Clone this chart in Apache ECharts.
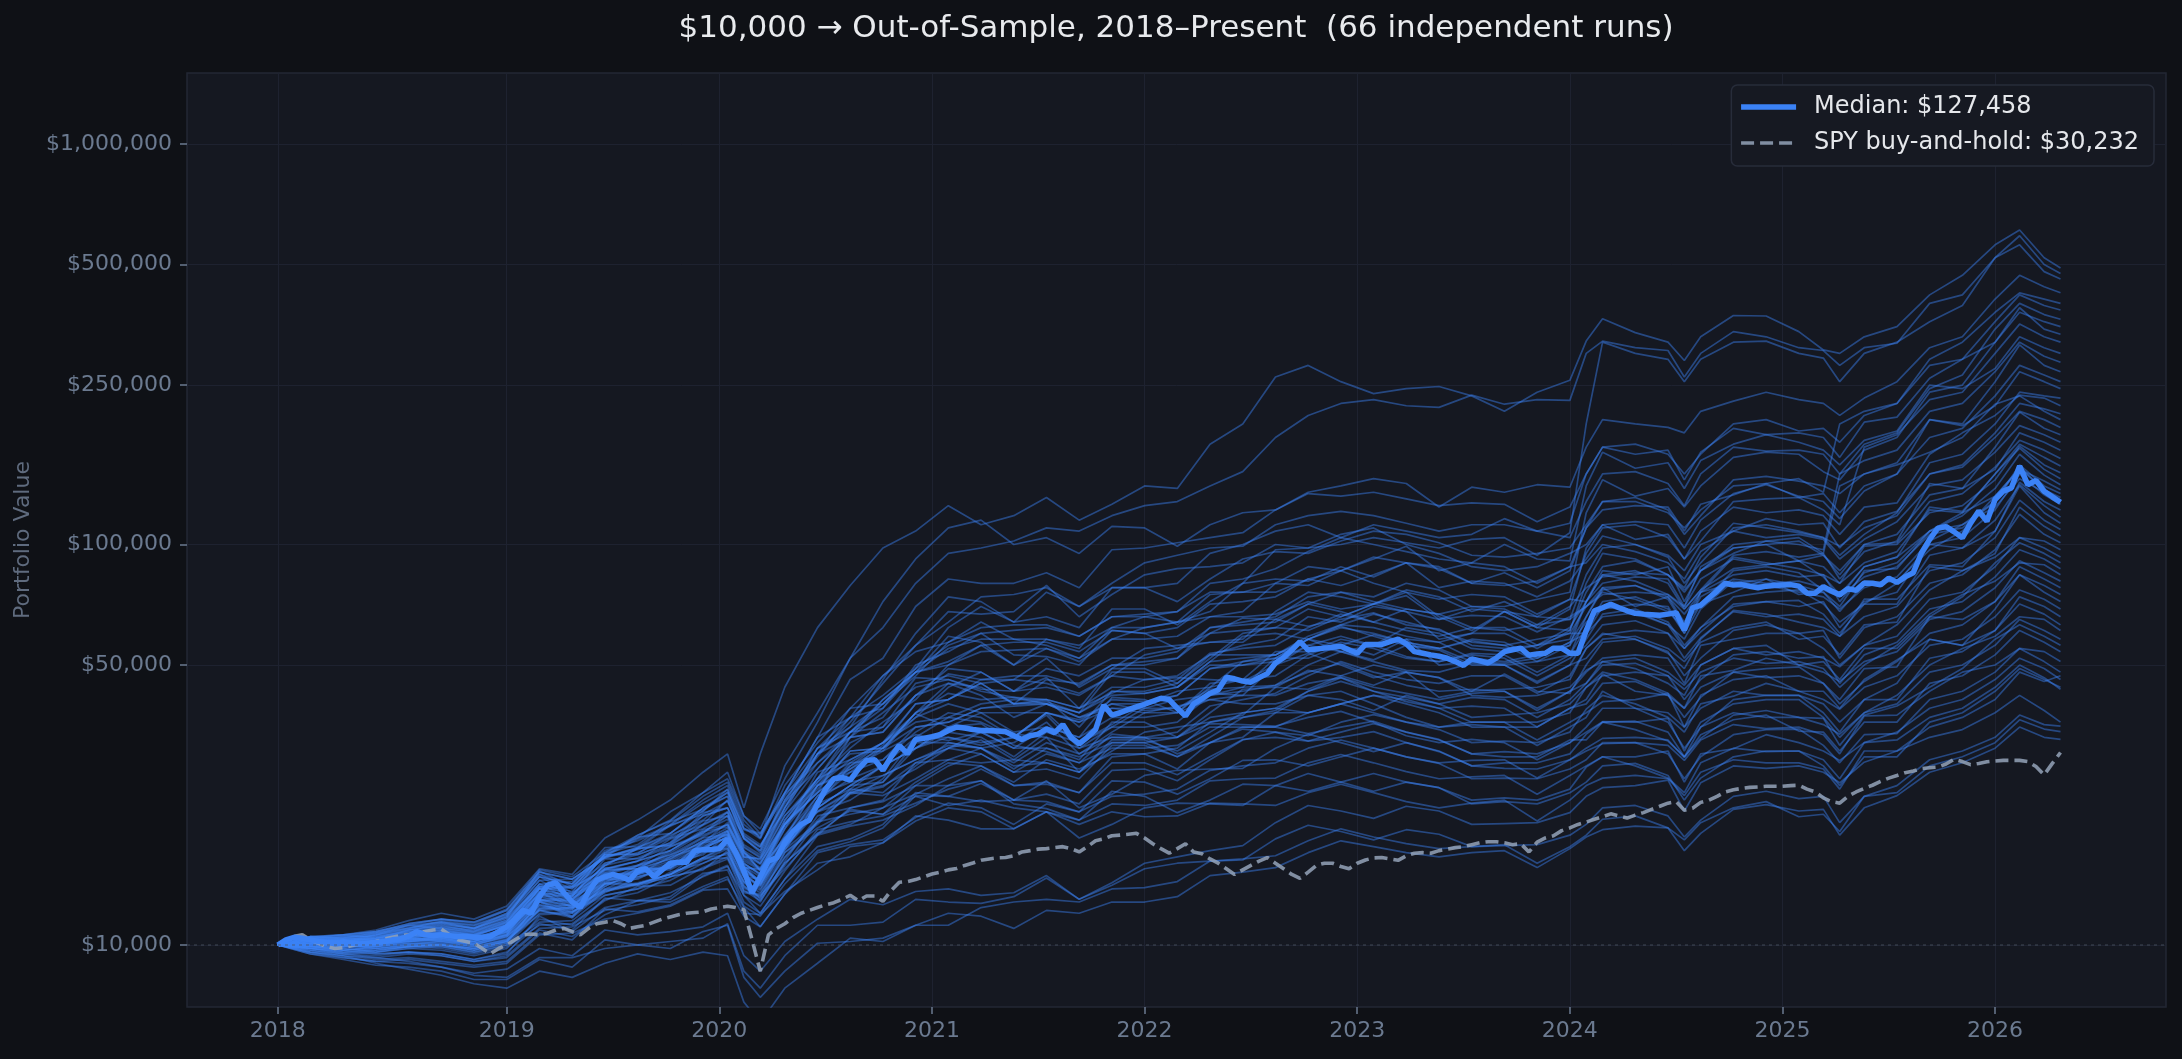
<!DOCTYPE html>
<html>
<head>
<meta charset="utf-8">
<title>Out-of-Sample runs</title>
<script src="https://cdn.jsdelivr.net/npm/echarts@6/dist/echarts.min.js"></script>
<style>
    html, body { margin: 0; padding: 0; background: #0f1116; }
    #chart { width: 2182px; height: 1059px; }
</style>
</head>
<body>
<div id="chart"></div>
<script>
// all money values are in thousands of dollars
// x = bi-weekly step index, 0 = start of 2018
var yearTicks = [0, 28, 54, 80, 106, 132, 158, 184, 210];
var yearLabels = ['2018', '2019', '2020', '2021', '2022', '2023', '2024', '2025', '2026'];
var valueTicks = [10, 50, 100, 250, 500, 1000];

var median = [
    10.0, 10.3, 10.45, 10.4, 10.3, 10.2, 10.15, 10.1, 10.15, 10.1,
    10.05, 10.1, 10.15, 10.2, 10.3, 10.35, 10.5, 10.8, 10.6, 10.55,
    10.6, 10.55, 10.5, 10.5, 10.45, 10.45, 10.5, 10.8, 11.1, 11.6,
    12.2, 12.0, 13.2, 14.1, 14.3, 13.5, 12.8, 12.4, 13.6, 14.5,
    14.8, 15.0, 14.8, 14.5, 15.3, 15.5, 14.8, 15.4, 16.0, 16.1,
    16.1, 17.2, 17.3, 17.3, 17.4, 18.4, 17.0, 15.3, 13.5, 14.8,
    16.2, 16.5, 18.0, 19.2, 20.0, 20.5, 22.5, 24.5, 26.0, 26.2,
    25.8, 27.5, 28.9, 29.0, 27.3, 29.5, 31.5, 30.0, 32.6, 32.8,
    33.1, 33.5, 34.3, 35.0, 34.8, 34.5, 34.3, 34.3, 34.2, 34.1,
    33.3, 32.6, 33.3, 33.6, 34.6, 33.9, 35.5, 33.0, 31.8, 33.0,
    34.5, 39.7, 37.5, 38.0, 38.7, 39.3, 39.9, 40.6, 41.3, 41.0,
    39.0, 37.3, 40.0, 41.2, 42.5, 43.3, 46.6, 46.2, 45.6, 45.3,
    46.5, 47.6, 50.6, 52.2, 54.5, 57.2, 54.5, 54.8, 55.1, 55.4,
    55.7, 54.5, 53.5, 56.3, 56.3, 56.3, 57.2, 58.0, 56.5, 54.0,
    53.5, 53.0, 52.6, 52.0, 51.0, 49.9, 51.8, 51.2, 50.6, 52.0,
    54.0, 54.6, 55.1, 52.9, 53.3, 53.5, 55.1, 55.1, 53.5, 53.5,
    61.0, 68.3, 69.5, 70.9, 69.5, 68.3, 67.3, 67.0, 66.8, 66.6,
    67.0, 67.6, 61.1, 69.5, 70.5, 73.5, 76.5, 80.0, 79.2, 79.4,
    78.6, 78.0, 78.7, 79.0, 79.2, 79.4, 78.7, 75.6, 75.6, 78.5,
    76.5, 74.9, 77.6, 76.8, 80.1, 80.0, 79.3, 82.4, 80.4, 83.0,
    85.0, 95.2, 103, 109.8, 110.8, 107.5, 103.9, 113, 121.2, 114.3,
    129.5, 135.9, 138.5, 157, 141, 144.5, 135.8, 131.5, 127.458
];

var spy = [
    10.0, 10.3, 10.5, 10.6, 10.3, 10.1, 9.9, 9.8, 9.85, 9.95,
    10.05, 10.1, 10.2, 10.35, 10.45, 10.55, 10.6, 10.7, 10.8, 10.9,
    10.95, 10.6, 10.3, 10.2, 10.1, 9.8, 9.5, 9.8, 10.0, 10.3,
    10.6, 10.65, 10.6, 10.7, 10.9, 11.0, 10.8, 10.6, 11.0, 11.3,
    11.4, 11.5, 11.3, 11.0, 11.1, 11.2, 11.4, 11.6, 11.75, 11.9,
    12.0, 12.05, 12.1, 12.3, 12.4, 12.5, 12.4, 12.25, 10.3, 8.6,
    10.6, 11.0, 11.3, 11.7, 12.0, 12.2, 12.4, 12.6, 12.75, 13.0,
    13.3, 12.9, 13.25, 13.25, 12.85, 13.67, 14.34, 14.4, 14.56, 14.8,
    15.04, 15.2, 15.4, 15.52, 15.8, 16.02, 16.27, 16.4, 16.5, 16.53,
    16.7, 17.07, 17.2, 17.35, 17.4, 17.5, 17.6, 17.4, 17.07, 17.6,
    18.2, 18.4, 18.74, 18.8, 18.9, 19.0, 18.5, 17.9, 17.4, 16.95,
    17.4, 17.9, 17.07, 16.9, 16.4, 16.0, 15.5, 15.0, 15.4, 15.8,
    16.2, 16.53, 16.0, 15.5, 15.0, 14.66, 15.2, 15.8, 16.0, 16.0,
    15.7, 15.5, 16.0, 16.3, 16.5, 16.53, 16.4, 16.27, 16.7, 16.95,
    17.0, 16.95, 17.2, 17.35, 17.5, 17.6, 17.8, 18.0, 18.1, 18.1,
    18.0, 17.8, 17.9, 17.07, 18.06, 18.5, 18.74, 19.3, 19.6, 20.0,
    20.27, 20.6, 20.9, 21.25, 21.0, 20.74, 21.1, 21.4, 21.8, 22.2,
    22.6, 22.8, 21.7, 21.95, 22.7, 23.0, 23.5, 24.1, 24.4, 24.6,
    24.74, 24.8, 24.9, 24.9, 24.9, 25.0, 25.05, 24.5, 24.1, 23.3,
    22.8, 22.6, 23.5, 24.1, 24.6, 25.05, 25.6, 26.1, 26.5, 26.93,
    27.2, 27.55, 27.7, 27.8, 28.3, 29.1, 28.7, 28.2, 28.4, 28.66,
    28.8, 28.9, 28.9, 28.9, 28.7, 27.9, 26.6, 28.4, 30.232
];

// the 66 runs are sampled at these step indices
var runX = [0, 4, 8, 12, 16, 20, 24, 28, 32, 36, 40, 44, 48, 52, 55, 57, 59,
    62, 66, 70, 74, 78, 82, 86, 90, 94, 98, 102, 106, 110, 114, 118, 122, 126, 130,
    134, 138, 142, 146, 150, 154, 158, 160, 162, 166, 170, 172, 174,
    178, 182, 186, 189, 191, 194, 198, 202, 206, 210, 213, 216, 218];

var runs = [
    [10,10.5,10.6,10.9,11.5,12.0,11.6,12.5, 15.5,15.0,18.5,20.5,23,27,30,22,30, 44,62,79,98,108, 125,112,118,131,115,126,140, 138,178,200,262,280,255, 238,245,248,235,215,240,257, 322,366,338,320,288,330, 373,372,340,306,300,330,350, 420,470,560,610,520,490],
    [10,10.2,10.4,10.3,10.9,11.3,11.0,11.8, 14.5,13.2,17.0,18.5,21.5,24,26,21,19.5, 26,36,52,62,80, 95,98,102,110,108,118,125, 128,140,152,185,210,225, 230,222,220,236,224,230,229, 300,322,310,305,262,300, 340,330,310,305,280,310,318, 400,420,520,590,500,475],
    [10,10.1,10.3,10.0,10.4,10.2,10.1,10.6, 12.8,12.2,15.4,15.5,17,19,21,17,16, 20,24,33,41,48, 55,58,58,56,52,62,66, 64,68,80,97,98,100, 104,101,98,103,104,94,107, 200,320,300,290,255,290, 320,322,300,292,255,300,320, 360,395,520,560,480,460],
    [10,10.4,10.2,10.6,11.0,11.4,11.0,12.0, 15.0,14.2,17.5,17.6,20,23,25,20,18.5, 28,38,52,72,92, 110,115,100,104,95,111,110, 99,112,120,122,135,140, 146,142,124,139,135,141,139, 175,205,200,196,190,215, 228,240,230,225,210,232,255, 310,330,410,470,440,425],
    [10,10.3,10.1,10.4,10.8,10.9,10.6,11.4, 14.0,14.0,16.0,17.0,18.5,20,23,18.5,17, 22,30,35,46,60, 74,72,64,76,70,78,78, 80,95,100,108,112,104, 112,108,104,106,116,108,113, 150,175,178,168,150,168, 200,205,192,195,180,210,225, 290,320,380,425,410,400],
    [10,10.2,10.0,9.9,10.3,10.5,10.2,10.9, 12.9,13.0,15.5,16.2,18.4,19.5,21,17,16, 20,26,31,36,41, 50,56,50,55,51,58,62, 64,66,68,80,79,86, 93,90,88,80,85,78,86, 110,122,125,124,108,126, 133,142,146,135,200,215,225, 280,290,360,420,395,385],
    [10,10.5,10.3,10.6,11.2,11.6,11.3,12.2, 15.2,14.6,16.6,18.8,20.5,24,27,21,19, 24,31,37,47,56, 64,74,75,78,70,80,90, 94,98,99,112,118,121, 118,113,108,112,112,108,104, 128,150,152,142,125,150, 175,171,172,168,150,178,190, 245,265,345,400,375,365],
    [10,10.0,9.8,10.0,10.2,10.4,10.0,10.5, 12.5,12.0,14.0,15.5,15.5,17.5,19,15.5,14.5, 18.5,22.5,28,31,38, 45,44,40,46,45,50,51, 52,62,64,66,74,76, 74,80,77,70,70,73,76, 120,145,132,138,124,140, 165,170,168,152,145,172,185, 240,250,320,380,360,350],
    [10,10.3,10.5,10.8,11.2,11.0,10.8,11.5, 14.2,14.4,16.5,17.5,19,22,24,19.5,19, 24,33,46,52,70, 82,80,80,85,78,97,98, 101,104,107,122,134,132, 135,130,125,127,126,114,124, 150,175,168,172,145,170, 195,188,190,185,165,202,208, 260,290,320,390,345,335],
    [10,10.1,10.0,10.2,10.5,10.7,10.4,11.0, 13.6,13.0,15.2,15.8,17.6,18.8,20,16.2,15.4, 18.4,25,29,32,37, 44,48,43,44,42,47,53, 55,57,58,68,76,74, 71,77,74,68,72,66,73, 95,110,112,104,92,102, 128,130,131,122,112,175,188, 230,240,300,355,330,320],
    [10,10.2,10.3,10.1,10.6,10.8,10.5,11.3, 13.4,13.3,15.8,16.5,17.8,21,22,17.5,16.5, 22,31,34,39,50, 54,60,61,62,59,66,66, 68,80,82,87,96,104, 100,96,92,90,100,92,91, 140,170,155,160,138,162, 178,188,180,172,158,182,192, 250,245,275,330,310,300],
    [10,9.9,9.8,9.6,9.9,10.0,9.7,10.2, 12.2,11.8,14.3,14.2,15.0,16.5,17.8,15.2,13.8, 17.5,22,25,25.5,31, 33,31.5,33,38,32,35.5,40, 43,44,46,54,54,58, 56,62,60,55,54,56,58, 72,86,84,88,72,86, 95,102,100,97,150,162,172, 215,225,270,320,295,285],
    [10,10.4,10.6,10.4,10.9,11.2,10.8,11.6, 14.5,14.6,16.5,17.3,18.6,21,22,18.5,17.5, 23,30,39,40,48, 59,57,50,58,56,62,62, 64,75,76,80,88,86, 92,99,86,90,88,80,88, 110,128,131,122,106,118, 145,148,144,140,134,150,160, 205,200,255,315,280,270],
    [10,10.0,10.2,10.3,10.6,10.5,10.3,10.8, 13.0,12.5,14.6,14.6,16.0,17.8,19.2,15.6,15.5, 18.5,23,27,31,35, 36,39,40,40,38,43,43, 45,53,56,58,66,64, 70,68,65,69,68,62,69, 98,112,114,112,98,115, 134,141,132,128,116,136,150, 185,195,235,280,265,255],
    [10,10.3,10.0,10.2,10.4,10.7,10.5,11.2, 13.8,13.2,16.4,16.4,17.6,19,21.5,17.2,16.2, 21,26,34,40,49, 62,70,64,66,62,78,78, 72,82,92,96,95,102, 108,106,101,94,93,95,98, 112,128,128,120,110,122, 140,142,131,134,120,140,150, 205,198,222,270,255,245],
    [10,9.8,9.7,9.9,10.1,10.0,9.8,10.3, 12.4,12.6,14.2,14.8,15.6,17.4,18.6,15.6,14.2, 17.8,22.5,24.5,28,33, 37,36,33,38,36.5,40,40, 42,49,51,53,59,63, 62,59,57,60,60,55,61, 80,95,92,84,78,93, 113,110,107,104,94,106,120, 160,168,200,240,235,232],
    [10,10.5,10.4,10.7,11.0,11.5,11.2,11.9, 14.8,14.2,16.8,18.6,19,22,23.5,19,17.8, 21.5,30,36,45,56, 68,67,68,79,66,75,84, 87,88,90,100,98,106, 110,100,95,88,86,88,95, 100,112,103,106,92,108, 124,120,122,118,106,124,127, 168,190,210,236,232,222],
    [10,10.1,10.2,10.0,10.3,10.4,10.1,10.7, 13.9,12.6,14.8,15.4,16.4,18.2,18.8,16.0,15.0, 19.5,27,29,32,40, 41,46,47,47,44.5,50,50, 52,60,61,62,69,66, 71,76,66,61,68,66,65, 84,98,100,93,80,90, 110,112,108,104,99,110,118, 150,158,190,225,218,212],
    [10,10.2,9.9,10.1,10.4,10.6,10.4,11.0, 13.4,12.8,14.3,15.8,16.8,18.6,20,17,15.4, 19.5,24.5,30.5,31,38, 41,45,40,41,39,49,49, 45,52,60,62,61,66, 71,68,58,60,68,62,61, 76,88,91,84,76,86, 100,102,104,95,140,150,158, 170,185,224,235,215,205],
    [10,10.3,10.5,10.5,10.8,11.0,10.7,11.4, 14.2,12.9,16.0,16.8,18.0,21.4,22,17.8,16.8, 22,28.5,34,41,48, 51,56,57,57,54,61,60, 62,71,72,74,82,79, 84,90,78,81,80,74,81, 92,105,100,94,86,100, 108,116,112,113,98,114,121, 150,156,185,215,205,196],
    [10,9.9,10.0,9.8,10.0,10.2,9.9,10.4, 12.6,12.1,14.0,15.3,15.4,17.0,18.2,14.8,14.6, 17.4,21.5,23,26,33, 33,32,33,37.5,31,35,39, 41,42,44,52,58,56, 53,58,57,52,51,53,56, 72,80,83,82,70,88, 98,100,91,94,84,100,106, 133,138,175,214,195,188],
    [10,10.4,10.2,10.5,10.9,11.1,10.9,11.7, 13.9,14.0,16.6,17.4,19.9,21.2,22.8,18.4,17.2, 22.5,31,35,40,47, 57,64,58,58,55,69,69, 63,72,80,82,81,88, 83,90,87,80,79,81,88, 90,100,96,90,82,96, 108,104,106,103,92,103,114, 140,145,170,198,188,180],
    [10,10.0,10.1,10.2,10.4,10.3,10.2,10.8, 13.2,12.7,15.6,15.5,16.4,18.2,19.6,15.9,15.1, 20,24,28,32,36, 37,40,41,41,39,44,44, 46,53.5,55,56,62,67, 64,61,59,62,62,56,62, 72,84,86,80,69,77, 94,96,93,95,82,96,102, 142,138,154,190,180,172],
    [10,10.2,10.4,10.3,10.5,10.8,10.6,11.2, 13.8,13.9,15.4,16.2,17.2,19.4,19.9,16.8,15.9, 20.5,26,33,34,42, 49,48,43,49,47,52,52, 54,62,63,64,71,76, 72,69,67,70,69,63,70, 78,83,85,84,77,86, 98,100,102,94,86,100,101, 128,134,156,182,172,164],
    [10,9.8,9.6,9.7,9.9,10.0,9.7,10.1, 12.8,11.7,13.6,14.2,15.0,17.3,17.8,14.4,13.7, 17.0,20,24,25.5,32, 32,31,32,36,30,34,38, 39.5,41,42,50,56,54, 51.5,56,54.5,50,50,51,53, 66,78,70,74,64,76, 93,90,87,84,80,90,96, 122,120,150,178,165,157],
    [10,10.5,10.6,10.8,11.3,11.6,11.4,12.3, 15.4,14.8,17.0,18.8,20.4,23.5,25.5,20.5,18.5, 25,32,39,47,54, 57,62,63,63,59,66,67, 68,76,76,76,82,86, 80,76,73,75,74,67,73, 72,84,81,75,70,82, 92,89,91,88,80,99,100, 120,125,145,176,158,151],
    [10,10.1,9.9,10.0,10.3,10.5,10.2,10.8, 13.2,13.3,14.7,15.3,15.6,18.0,19.3,15.7,14.8, 18.8,23.5,28.5,29,34, 38,37,33,38,36,41,40.5, 42,49,50,52,58,62, 60,57,55,58,57,52,57, 66,77,79,73,63,71, 86,88,85,77,74,88,93, 124,121,150,174,154,146],
    [10,10.3,10.2,10.4,10.7,11.0,10.8,11.4, 14.0,13.4,15.8,17.4,17.8,20.0,21.5,16.6,16.4, 21,25.5,32,35,45, 47,45,46,52,44,49,55, 56,57,57,65,71,68, 64,69,67,62,61,63,65, 70,75,76,75,69,77, 87,89,91,83,75,88,93, 108,118,138,168,149,141],
    [10,9.9,9.7,9.9,10.1,10.2,9.9,10.3, 12.6,12.1,13.5,14.7,15.6,17.2,19.2,14.9,14.1, 17.6,22,25,28,31, 35,34,31,35,33,37,37, 38,45,46,47,53,57, 55,52,51,53.5,53,48,53, 62,72,74,69,60,71, 76,82,79,76,70,86,87, 108,120,132,154,144,137],
    [10,10.2,10.3,10.1,10.5,10.6,10.3,10.9, 12.9,12.9,15.1,15.8,16.8,18.0,20.2,16.4,15.5, 19.8,25,27.5,31.5,40, 41,45,40,40.5,38,48,48, 44,51,59,60,58,63, 67,64,61,57,56,58,60, 70,76,73,68,62,74, 82,80,81,78,74,83,88, 106,110,128,158,140,134],
    [10,10.0,10.2,10.3,10.6,10.4,10.2,10.7, 13.0,13.1,14.6,15.2,16.2,18.0,19.3,15.6,15.4, 18.6,25,27,29,35, 36,39,39.5,40,38,42,42.5, 44,51,52,53,58,62.5, 59,56,55,57.5,56,51,56, 64,69,71,70,60,76, 80,82,75,76,68,80,81, 97,108,132,155,137,131],
    [10,10.4,10.3,10.6,11.0,11.3,11.0,11.8, 14.8,14.2,16.8,16.9,19.0,21.6,24.1,18.7,17.6, 23,29.5,37,39,48, 50,54,54.5,55,52,58,58, 59,66,66,67,72,69, 71,74.5,65,66.5,66,60.5,66, 70,78,79,74,67,76, 84,86,83,84,72,85,90, 108,112,128,156,137,129],
    [10,9.9,10.0,9.9,10.2,10.3,10.0,10.6, 13.5,12.4,14.4,15.0,16.6,17.6,18.9,15.3,14.5, 17.2,23,26,28,31, 35,38,34,35,33,41.5,41, 38,44,51,52,52,56, 59.5,57,55,51,50.5,52,57, 60,70,68,63,58,69, 81,79,76,74,69,78,83, 102,112,124,146,135,128],
    [10,10.2,10.0,10.1,10.3,10.4,10.2,10.8, 13.0,12.5,15.1,15.0,15.8,17.4,18.6,15.8,14.3, 17.6,22,25,28,31, 34,33,29.5,34,32,35,35, 36,42,43,44.5,50,54, 51,48.5,48,50.5,50,45,50, 58,67,69,64,56,62, 74,76,77,71,64,71,80, 100,104,122,150,133,126],
    [10,10.4,10.5,10.7,11.1,11.4,11.2,12.0, 15.0,13.8,17.2,18.2,19.8,21.6,24.5,19.6,18.4, 24,33,37,42,49, 56,60,53,52.5,50,61,60, 55,60,65.5,65,62.5,65, 67.5,63,61.5,56,55,56,60, 60,66,67.5,63,55,60.5, 71,72,70,72,62,72,76, 100,98,108,143,128,122],
    [10,9.8,9.9,9.7,9.9,10.0,9.8,10.2, 12.9,11.8,13.7,14.2,15.0,16.5,16.8,14.3,13.5, 16.6,20.5,24.5,24,28, 32,31,28.5,32,30,33,33, 34,39.5,41,42.5,47,51, 48,46,45,47,47,42.5,47, 55,59.5,61,60,55,62, 70,72,72.5,67,60,71,71, 94,98,115,141,125,117],
    [10,10.1,10.3,10.4,10.6,10.9,10.6,11.2, 13.8,13.2,15.4,15.5,17.2,19.2,20.6,16.6,16.4, 20,25.5,30,30.5,38, 42.5,41,41.5,41,35,43,42.5, 44,50,50,51,56,59, 56,52.5,51,53,52,47,52, 56,63,64.5,60,52,58.5, 68,66,67,65,59,73,73, 89,88,108,140,120,113],
    [10,9.9,9.7,9.8,10.0,9.9,9.6,10.0, 12.0,12.1,13.3,13.8,14.5,16.0,17.0,14.4,13.0, 16.0,18.8,22,23,28.5, 29,28.5,29,33,27,30.5,34, 35,36,37.5,44,48.5,47, 44.5,48,46.5,43,43.5,44,46, 55,60,58,53.5,49,58, 68.5,67,64,62,59,66,70, 86,90,104,129,115,109],
    [10,10.3,10.2,10.5,10.8,11.1,10.9,11.5, 14.2,13.6,16.8,16.8,18.0,20.4,21,17.6,16.6, 21.5,27.5,34,35,42, 47.5,46,46,45,42.5,47,46, 47,53,53,53,58,54, 56,58,50,51,50,45.5,50, 52,58,59,55,51,57, 62,64,58,59,53,63,64, 88,86,95,124,111,105],
    [10,10.0,9.9,10.1,10.2,10.3,10.0,10.5, 12.2,12.3,14.2,14.8,15.6,18.0,18.4,14.9,14.1, 18.5,21.5,24,25,27.5, 31,34,31,31,29,36,36, 33,38,43.5,44,43.5,47, 50,48,41.5,43,47.5,43,42.5, 50,57,58,54,47,52, 61,63,60,61,52,62,66, 80,84,97,119,106,101],
    [10,9.7,9.5,9.6,9.8,9.7,9.4,9.8, 11.6,11.2,12.9,14.0,14.1,15.6,16.6,13.5,13.3, 15.5,19,20,22,25.5, 28.5,28,25.5,29,27.5,30,30, 31,36,37,38.5,43,46.5, 44,42.5,41,42.5,43,38.5,43, 48,52,53,52,45,56, 58,60,60,55,50,56,63, 77,86,93,104,102,97],
    [10,10.5,10.4,10.7,11.2,11.4,11.1,11.9, 14.8,13.5,16.9,17.8,20.3,21.8,23.5,18.8,17.6, 22.8,27.5,34,37,46.5, 46,43.5,43,46.5,39,42.5,46, 46.5,46,45.5,50,53.5,50, 46.5,48,46.5,42,41.5,42,44, 48.5,51,49,45,42,50, 55,53,54,52,49.5,56,59, 73,76,88,104,98,93],
    [10,10.0,10.2,10.0,10.2,10.4,10.1,10.6, 12.9,12.4,13.8,15.0,15.8,17.4,18.6,15.6,14.2, 17.6,21.6,24.2,26.5,29, 31.5,31,27.5,31,29.5,32,32, 33,37,38,39,43,45.5, 43,41.5,40,41.5,41,37,41, 45,51,52,48,44.5,50, 55,56,50,51,46,55,55, 66,74,90,101,95,90],
    [10,9.8,9.6,9.5,9.6,9.5,9.2,9.5, 11.8,10.8,12.4,12.9,13.0,14.9,15.8,12.8,12.0, 14.6,18.8,19.8,20.5,22.3, 25,27.5,25,25.5,24,29.5,30, 27.5,32,33,38,42,41, 38.5,42,40,37,37.5,38,40, 44,47,48,47,41,46, 53,54,52,52.5,45,53,57, 69,72,83,97,92,87],
    [10,10.2,10.1,10.3,10.5,10.8,10.6,11.2, 13.8,13.9,15.5,16.2,17.2,19.2,19.7,16.6,15.6, 20,25,30.5,31,37, 40,38,38,38,36,39,39, 39,43.5,44,44.5,48,50.5, 47,44.5,43,43.5,43,39,43, 45,50,50.5,47,43.5,48, 52,50.5,51,49,44,50,56, 67,75,81,90,89,84],
    [10,9.9,10.0,9.8,9.9,10.0,9.7,10.1, 12.2,11.7,14.2,14.1,14.8,16.3,17.4,14.1,12.8, 16.2,21,22,22.8,25, 28,30,27,27.5,26,31.5,31.5, 29.5,33,37,38,38,40, 42,41,39,36,36,36,38, 44,48,46,42.5,39,47, 48.5,52,50,48,45.5,51,54, 65,68,78,91,85,81],
    [10,10.3,10.4,10.6,10.9,11.2,11.0,11.7, 15.3,14.0,16.6,17.5,18.8,20.5,23,18.4,17.2, 23.8,28.5,33,34,42, 45,42,37,40,37,40,38.5, 39,42.5,42,42,45,46.5, 43,40.5,39,39.5,39,35,39, 41,47.5,43,42,37,41.5, 48,49,49.5,45,41,49,49.5, 66,65,72,88,82,78],
    [10,9.8,9.7,9.8,10.0,10.1,9.8,10.2, 12.3,12.4,13.7,14.2,15.0,16.5,17.6,13.6,13.4, 16.5,20.3,24,23.6,26, 29,31,28,28.5,27,32.5,32.5, 30.5,34,38,39,38,40, 42,40,38,35,35,35,39, 40,45,45.5,42,39,44, 48,46.5,47,45,40,45.5,51, 60,63,72,84,79,75],
    [10,10.1,9.9,10.1,10.3,10.2,10.0,10.5, 12.8,12.3,14.2,15.5,15.6,17.2,17.4,14.8,14.0, 17.3,20.2,23.8,24.8,28.5, 31,30,27,30,28.5,31,31, 31.5,35,35,35,38,40, 38,36,35,36,36,32.5,36, 38,40.5,41,42.5,35,42, 46,47,43,43,39,46,51.5, 58,56,69,84,76,72],
    [10,9.6,9.4,9.3,9.5,9.4,9.1,9.4, 11.0,11.1,12.2,12.6,13.2,15.1,15.4,12.5,11.8, 14.2,17.2,18.1,19.6,23.6, 23.5,25.3,23,23.8,22.5,27.3,27.5, 25.7,29,32.5,34,33.3,36, 37.6,36,34.5,32,32.3,32,34, 38.8,42,40,37,34,40, 41.8,45,43,41,38.8,44,47, 56,58,66,77,73,69],
    [10,10.4,10.6,10.8,11.3,11.6,11.4,12.2, 15.2,14.6,16.6,18.4,19.9,22.6,24.4,19.4,18.8, 23.5,30,33,38,44, 46,43,41.5,40,37,39,38, 38,41,40,40,42,43, 40,37,35,35.5,35,31.5,35, 37,43,39,38,35,39, 43,42,42,40,36,41,45, 58,56,61,74,70,66],
    [10,9.9,9.8,9.6,9.8,9.9,9.6,10.0, 11.4,11.5,13.3,13.8,15.2,16.0,17.0,13.7,12.9, 15.8,20.3,21.2,22,23.8, 26,28,25,25.2,24,28.5,28.5, 26.6,29.5,32.6,33,32.3,34, 35.7,34,32.6,30,30.4,30,32, 35,39,39,36,31,35, 41,42,42,38,34,41,41, 52,54,61,71,67,63],
    [10,10.2,10.3,10.2,10.4,10.6,10.4,11.0, 13.4,13.5,15.0,15.7,16.6,18.5,18.9,16.0,15.0, 20.2,24,27.5,30.5,33.5, 32.4,34,33.6,33,31,33,32.8, 33,35.7,35.5,35.2,37,38.3, 36,33.3,32,32.6,32,29,32, 34,36.1,36,36.8,30.5,36, 40,41,41,37,33,38,42, 50,55,59,66,65,61],
    [10,9.7,9.5,9.4,9.6,9.5,9.2,9.6, 11.3,10.9,13.1,12.9,13.5,14.8,15.7,13.3,12.0, 14.6,17.6,18.4,20,24, 23.5,22.8,23,25.7,22,23.8,26.5, 27.3,27.5,27.6,31,33.6,32, 30.4,32,30.5,28,28.5,28.5,30, 33.6,36,34.5,32.3,29.5,35, 38,37,37,35.5,33.6,38,40, 48,50,56,65,61,58],
    [10,10.1,10.0,10.2,10.4,10.3,10.1,10.6, 13.6,12.5,14.5,15.1,16.0,16.8,18.8,15.2,14.4, 18,23.6,25.5,26.5,29, 31,32.5,29,28.5,27,32,32, 29.5,32,35,35,33.7,35, 36.2,34,32.5,30,29.5,29.5,32.5, 32.5,36,36.2,34,29.5,32.8, 37.5,38.5,37,36.8,31.5,37.5,39.5, 44,49,58,63,59,56],
    [10,9.5,9.3,9.1,9.2,9.0,8.8,9.0, 10.6,10.7,11.6,12.0,12.5,13.7,13.8,11.8,11.1, 13.4,17,17.8,18.3,20.8, 22.6,22,20,22.5,21.5,23.5,23.8, 24.5,27.3,28,28.5,31,32.5, 31,29.5,28.5,28.9,29,26.1,29, 31,32.8,33,32.5,29.4,33.5, 36.5,37.5,34.2,34,30.5,36,36, 45,47,53,61,57,54],
    [10,10.3,10.2,10.4,10.7,10.9,10.7,11.3, 14.0,13.4,15.8,17.4,17.7,19.9,21.4,17.2,15.3, 20.5,26,28.5,32,37.8, 35,35.7,31.5,30.4,28.5,33.6,33, 30,32,34.6,34,32.3,33, 34.1,32,30.4,28,27.6,27.5,29, 30.5,31.8,32,31.5,28.9,32.5, 35.5,34.7,35,33.5,30,37.3,37.5, 43,48,50,55,54,51],
    [10,9.8,9.6,9.7,9.9,9.8,9.5,9.9, 11.2,11.3,13.0,13.5,14.8,15.5,16.4,13.3,12.5, 15.3,19.4,20.3,21,22.6, 24.5,25.7,23,22.8,21.5,25.7,25.5, 23.8,26,28.9,29,28,29.5, 31,29.5,28.4,26,26.1,26,27.5, 29,32,32,30,26,29.5, 33.5,34.5,34.6,31.5,28.5,33.5,33.7, 41,43,48,55,51,48],
    [10,9.6,9.4,9.2,9.3,9.1,8.9,9.1, 10.7,10.3,12.3,12.1,12.6,13.8,14.6,12.4,11.1, 13.4,16.0,16.6,18,20.4, 22,21.5,19.5,21.5,20.5,22.5,22.3, 23,25.7,26,26.1,28.5,29.9, 28.5,27.1,26,26.3,26.5,23.8,26.5, 28,29.5,29.5,30.5,25.5,30, 30.9,33.5,32,30.5,28.9,32,34, 39,41,46,52,49,46],
    [10,10.2,10.0,9.9,10.1,10.0,9.8,10.2, 12.3,12.4,13.6,14.1,14.8,15.4,17.2,13.9,13.1, 17,19.6,21.6,21.2,25, 25,25.7,22.5,21.9,20.5,24.2,23.5, 21.4,23,25.2,25,24.2,25.5, 26.8,25.5,24.7,23,23.3,23,24.5, 27.8,29.5,28,26.1,24,28.5, 31,30.4,30.5,29,26,32,32.5, 37,39,44,50,46.5,43.5],
    [10,9.9,9.7,9.5,9.6,9.4,9.1,9.3, 10.9,10.5,11.9,12.9,12.8,14.0,14.8,12.0,11.9, 13.6,15.4,17.6,18,21, 20.5,19.5,19.5,21.5,18.5,20,22, 22.6,22.5,22.3,25,26.8,25.5, 24.2,25.5,24.7,22.5,22.8,22.5,24, 25.5,28,28.4,26.5,23,26.1, 29.5,30.5,30.5,28,25,29.5,29.5, 36,38,43,49,46,44],
    [10,10.1,9.9,10.0,10.2,10.1,9.9,10.3, 11.9,12.0,13.8,14.3,15.0,16.4,16.5,14.0,13.2, 16.0,19.0,21.8,21.2,23.5, 22.3,23,22,21.5,20,21.5,20.9, 21,22.6,22.5,22.3,24,25.2, 24,22.8,22,22.6,23,20.4,23, 25,26.1,26.5,26,23.6,27, 29,28.5,28.5,27.5,24.5,30.5,30.5, 33,34.5,38,42,38.5,36],
    [10,9.6,9.3,9.1,9.0,8.8,8.5,8.7, 9.8,9.4,10.9,10.6,10.8,11.1,12.0,9.4,8.6, 10.2,11.6,13.0,12.6,13.6, 13.8,13.3,13.5,14.9,13.0,14.1,15.5, 16.0,16.2,16.3,18.4,19.9,19.2, 18.3,19.4,18.9,17.6,17.7,17.8,18.8, 20,22,22.3,21,18.6,20.5, 23.5,24.2,23.2,23.5,20.2,23.5,25, 29,30.5,33,37.5,35.5,35.2],
    [10,9.8,9.5,9.3,9.1,8.8,8.4,8.3, 9.3,9.3,9.8,10.0,9.8,10.8,11.2,8.3,7.4, 8.6,10.1,10.2,10.4,11.2, 12.0,11.8,11.0,12.2,12.0,12.8,12.8, 13.2,14.9,15.2,15.6,17.0,18.2, 17.6,17.0,16.6,17.0,17.2,15.6,17.4, 18.6,19.4,19.8,19.6,18.3,20.2, 22,22.8,20.9,21.2,19.2,23.5,24, 28,29.5,32,36.5,34.6,34.1],
    [10,9.7,9.4,9.0,8.7,8.4,8.0,7.8, 8.6,8.3,9.0,9.5,9.2,9.6,9.4,7.2,6.4, 7.8,9.0,10.4,10.2,11.2, 11.2,12.4,12.8,13.0,12.8,13.8,13.9, 14.4,16.2,16.4,16.7,18.2,19.5, 18.6,17.9,17.4,17.6,17.8,16.0,17.6, 18.8,20.6,21,19.6,17.2,19, 21.8,22.4,21.6,21.8,18.8,22,23.6, 27,28.5,31,35,33,32.6],
    [10,9.5,9.2,8.9,8.8,8.6,8.2,8.2, 9.2,8.8,10.3,10.0,10.2,10.4,11.3,8.6,7.8, 9.4,11.2,11.2,11.4,13.0, 12.8,12.7,13.2,14.7,13.0,14.3,16.0, 16.6,17.2,17.7,20.2,22.3,21.6, 20.7,22.2,21.6,20,20.1,20.2,21.4, 23.5,24.7,25,25.8,21.6,25.4, 28,27.6,28,27,25.4,28.6,30.5, 35,37,41,48,45.5,47]
];

function money(v) {
    return '$' + Math.round(v * 1000).toLocaleString('en-US');
}

var medianName = 'Median: ' + money(median[median.length - 1]);
var spyName = 'SPY buy-and-hold: ' + money(spy[spy.length - 1]);

var tickColor = '#6b7a90';
var gridColor = '#1e2230';
var font = 'DejaVu Sans';

var series = runs.map(function (run, k) {
    return {
        name: 'run' + (k + 1),
        type: 'line',
        symbol: 'none',
        silent: true,
        z: 2,
        lineStyle: { color: '#3b82f6', width: 1.7, opacity: 0.45 },
        data: run.map(function (v, j) { return [runX[j], v]; })
    };
});

series.push({
    name: spyName,
    type: 'line',
    symbol: 'none',
    silent: true,
    z: 3,
    itemStyle: { color: '#94a3b8' },
    lineStyle: { color: '#94a3b8', width: 3.6, type: [13, 6], opacity: 0.85 },
    markLine: {
        silent: true,
        symbol: ['none', 'none'],
        label: { show: false },
        lineStyle: { color: '#4b5563', width: 2, type: [3, 4], opacity: 0.4 },
        data: [{ yAxis: 10 }]
    },
    data: spy.map(function (v, i) { return [i, v]; })
});

series.push({
    name: medianName,
    type: 'line',
    symbol: 'none',
    silent: true,
    z: 4,
    itemStyle: { color: '#3b82f6' },
    lineStyle: { color: '#3b82f6', width: 5.5 },
    data: median.map(function (v, i) { return [i, v]; })
});

var chart = echarts.init(document.getElementById('chart'), null, { renderer: 'canvas' });
chart.setOption({
    backgroundColor: '#0f1116',
    animation: false,
    title: {
        text: '$10,000 \u2192 Out-of-Sample, 2018\u2013Present  (' + runs.length + ' independent runs)',
        left: 1176,
        top: 13,
        textAlign: 'center',
        padding: 0,
        textStyle: { color: '#e8eaed', fontSize: 31, fontWeight: 'normal', fontFamily: font }
    },
    legend: {
        orient: 'vertical',
        right: 28,
        top: 85,
        data: [
            { name: medianName, lineStyle: { width: 5.5 } },
            { name: spyName, lineStyle: { width: 3.6 } }
        ],
        itemWidth: 55,
        itemHeight: 24,
        itemGap: 12,
        padding: [10, 15, 11, 7],
        backgroundColor: '#161922',
        borderColor: '#272c3a',
        borderWidth: 1.5,
        borderRadius: 6,
        selectedMode: false,
        itemStyle: { opacity: 0 },
        textStyle: { color: '#e5e7eb', fontSize: 24, fontFamily: font, padding: [0, 0, 0, 13] }
    },
    grid: {
        left: 187,
        right: 16,
        top: 73,
        bottom: 52,
        show: true,
        backgroundColor: '#151821',
        borderColor: '#232734',
        borderWidth: 1.5,
        outerBoundsMode: 'none'
    },
    xAxis: {
        type: 'value',
        min: -11.1,
        max: 230.9,
        axisLine: { show: false, onZero: false },
        axisTick: { show: true, length: 7, customValues: yearTicks, lineStyle: { color: tickColor, width: 1.5 } },
        axisLabel: {
            customValues: yearTicks,
            margin: 13,
            color: tickColor,
            fontSize: 22,
            fontFamily: font,
            formatter: function (v) { return yearLabels[yearTicks.indexOf(Math.round(v))] || ''; }
        },
        splitLine: { show: true, lineStyle: { color: gridColor, width: 1 } }
    },
    yAxis: {
        type: 'log',
        logBase: 10,
        min: 7.0,
        max: 1504,
        name: 'Portfolio Value',
        nameLocation: 'middle',
        nameRotate: 90,
        nameGap: 153,
        nameTextStyle: { color: '#5f6b7e', fontSize: 22, fontFamily: font },
        axisLine: { show: false, onZero: false },
        axisTick: { show: true, length: 7, customValues: valueTicks, lineStyle: { color: tickColor, width: 1.5 } },
        axisLabel: {
            customValues: valueTicks,
            margin: 15,
            color: tickColor,
            fontSize: 22,
            fontFamily: font,
            formatter: function (v) { return money(v); }
        },
        splitLine: { show: true, lineStyle: { color: gridColor, width: 1 } }
    },
    series: series
});
</script>
</body>
</html>
